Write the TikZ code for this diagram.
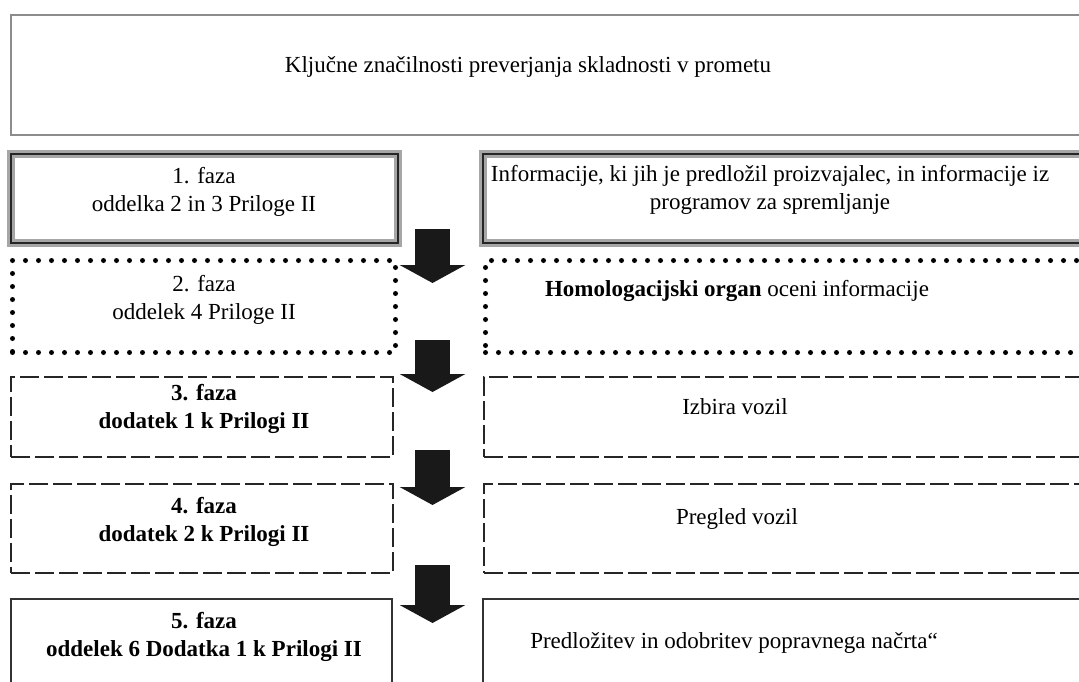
\documentclass[tikz,border=0pt]{standalone}
\usepackage{fontspec}
\setmainfont{Liberation Serif}
\usetikzlibrary{positioning,arrows.meta,calc}

\begin{document}
\begin{tikzpicture}[x=0.5pt, y=-0.5pt,
  font=\fontsize{11.5}{14}\selectfont,
  box/.style={rectangle, inner sep=0pt, anchor=north west},
  titlebox/.style={box, draw=black!45, line width=0.8pt},
  fazaone/.style={box, draw=black!85, line width=0.9pt, preaction={draw=black!35, line width=4pt}},
  fazatwo/.style={box, draw=black, line width=2.5pt, dash pattern=on 0pt off 6.5pt, line cap=round},
  fazadash/.style={box, draw=black!85, line width=1pt, dash pattern=on 9.5pt off 2.5pt},
  fazafive/.style={box, draw=black!80, line width=1pt},
  txt/.style={align=center, inner sep=0pt},
  blockarrow/.style={draw=black!90, line width=17.5pt, -{Triangle[width=32.5pt,length=9pt]}}]
% page size of the reference, right column runs off the edge
\useasboundingbox (0,0) rectangle (1079,681);
\clip (0,0) rectangle (1079,681);
\coordinate (ax) at (432.5,0);

% title
\node[titlebox, minimum width=545pt, minimum height=60pt] (title) at (10,14) {};
\node[txt] (titletxt) at (528,67) {Ključne značilnosti preverjanja skladnosti v prometu};

% phase 1
\node[fazaone, minimum width=193.5pt, minimum height=44.5pt] (l1) at (10,153) {};
\node[fazaone, minimum width=310pt, minimum height=44.5pt] (r1) at (482,153) {};
\node[txt] (l1txt) at (204,192) {1. faza\\oddelka 2 in 3 Priloge II};
\node[txt] (r1txt) at (770,190) {Informacije, ki jih je predložil proizvajalec, in informacije iz\\programov za spremljanje};

% phase 2
\node[fazatwo, minimum width=191.5pt, minimum height=46pt] (l2) at (10,258) {};
\node[fazatwo, minimum width=310pt, minimum height=46pt] (r2) at (483,258) {};
\node[txt] (l2txt) at (204,300) {2. faza\\oddelek 4 Priloge II};
\node[txt] (r2txt) at (737,291) {\textbf{Homologacijski organ} oceni informacije};

% phase 3
\node[fazadash, minimum width=191pt, minimum height=40pt] (l3) at (10,376) {};
\node[fazadash, minimum width=310pt, minimum height=40pt] (r3) at (483,376) {};
\node[txt, font=\fontsize{11.5}{14}\selectfont\bfseries] (l3txt) at (204,409) {3. faza\\dodatek 1 k Prilogi II};
\node[txt] (r3txt) at (735,407) {Izbira vozil};

% phase 4
\node[fazadash, minimum width=191pt, minimum height=44.5pt] (l4) at (10,483) {};
\node[fazadash, minimum width=310pt, minimum height=44.5pt] (r4) at (483,483) {};
\node[txt, font=\fontsize{11.5}{14}\selectfont\bfseries] (l4txt) at (204,522) {4. faza\\dodatek 2 k Prilogi II};
\node[txt] (r4txt) at (737,519) {Pregled vozil};

% phase 5
\node[fazafive, minimum width=190.5pt, minimum height=50pt] (l5) at (10,598) {};
\node[fazafive, minimum width=310pt, minimum height=50pt] (r5) at (482,598) {};
\node[txt, font=\fontsize{11.5}{14}\selectfont\bfseries] (l5txt) at (204,637) {5. faza\\oddelek 6 Dodatka 1 k Prilogi II};
\node[txt] (r5txt) at (734,643) {Predložitev in odobritev popravnega načrta“};

% block arrows between the phases
\draw[blockarrow] ($(l1.south -| ax)+(0,-15)$) -- ($(l2.north -| ax)+(0,25)$);
\draw[blockarrow] ($(l2.south -| ax)+(0,-15)$) -- ($(l3.north -| ax)+(0,16)$);
\draw[blockarrow] ($(l3.south -| ax)+(0,-8)$) -- ($(l4.north -| ax)+(0,22)$);
\draw[blockarrow] ($(l4.south -| ax)+(0,-9)$) -- ($(l5.north -| ax)+(0,25)$);
\end{tikzpicture}
\end{document}
